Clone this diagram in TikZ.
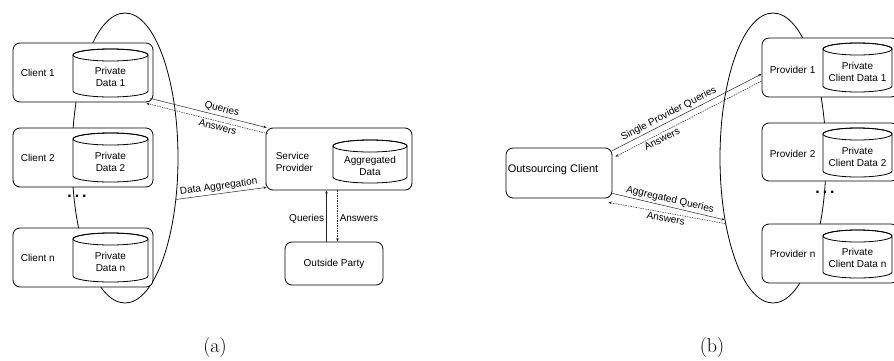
\documentclass[tikz,border=0pt]{standalone}
\usepackage{fontspec}
\usetikzlibrary{shapes.geometric,arrows.meta,calc}
\newfontfamily\diagfont{Liberation Sans}

% database drum: name, centre x, centre y, width, height, text
\newcommand\drum[6]{%
  \path[drumline] ({#2-#4/2},{#3-#5/2+6}) -- ({#2-#4/2},{#3+#5/2-6})
    arc[start angle=180, end angle=0, x radius={#4/2}, y radius=6]
    -- ({#2+#4/2},{#3-#5/2+6})
    arc[start angle=0, end angle=-180, x radius={#4/2}, y radius=6] -- cycle;
  \draw[line width=0.8pt] (#2,{#3-#5/2+6}) ellipse[x radius={#4/2}, y radius=6];
  \node[lbl] (#1) at (#2,{#3+4}) {#6};
}

\tikzset{
  ring/.style={draw, ellipse, line width=0.8pt, inner sep=0pt,
    minimum width=106pt, minimum height=290pt},
  party/.style={draw, fill=white, rounded corners=7pt, line width=0.8pt, inner sep=0pt},
  lbl/.style={font=\diagfont\fontsize{10}{12}\selectfont, align=center, inner sep=0pt},
  drumline/.style={draw, fill=white, line width=0.8pt},
  conn/.style={line width=0.5pt, black!85, -{Stealth[length=3.2pt,width=2.6pt]}},
  back/.style={conn, dash pattern=on 1.5pt off 1pt},
  tag/.style={font=\diagfont\fontsize{10}{12}\selectfont, inner sep=2pt, black},
  caption/.style={font=\fontsize{20}{24}\selectfont, inner sep=0pt},
  gap/.style={font=\diagfont\bfseries\fontsize{16}{16}\selectfont, inner sep=0pt}
}

\begin{document}
\begin{tikzpicture}[x=1pt, y=-1pt]
\useasboundingbox (0,0) rectangle (894,360);

% ---------------- (a) clients sharing data with a service provider
\node[ring] (ringA) at (125,158) {};

\node[party, minimum width=140pt, minimum height=59pt] (c1) at (83,72.5) {};
\node[lbl, anchor=west] (c1t) at ($(c1.west)+(8,0)$) {Client 1};
\drum{d1}{110.5}{73}{75}{48}{Private\\Data 1}

\node[party, minimum width=140pt, minimum height=59pt] (c2) at (83,157.5) {};
\node[lbl, anchor=west] (c2t) at ($(c2.west)+(8,0)$) {Client 2};
\drum{d2}{110.5}{157.5}{75}{49}{Private\\Data 2}

\node[gap] (dotsA) at (77,196) {.\kern3pt.\kern3pt.};

\node[party, minimum width=140pt, minimum height=59pt] (cn) at (83,257.5) {};
\node[lbl, anchor=west] (cnt) at ($(cn.west)+(8,0)$) {Client n};
\drum{dn}{110.5}{257.5}{75}{49}{Private\\Data n}

\node[party, minimum width=146pt, minimum height=62pt] (sp) at (339,159) {};
\node[lbl, anchor=west, align=left] (spt) at ($(sp.west)+(10,3)$) {Service\\Provider};
\drum{agg}{370}{161.5}{74}{43}{Aggregated\\Data}

\node[party, minimum width=98pt, minimum height=43pt] (op) at (334,263.5) {};
\node[lbl] (opt) at (op.center) {Outside Party};

\draw[conn] ($(c1.south east)+(-3,-4)$) --
  node[tag, sloped, above, pos=0.6] {Queries} ($(sp.north west)+(1,0)$);
\draw[back] ($(sp.north west)+(2,6)$) --
  node[tag, sloped, below, pos=0.4] {Answers} ($(c1.south east)+(-7,1)$);
\draw[conn] (ringA.-39) --
  node[tag, sloped, above, pos=0.48] {Data Aggregation} ($(sp.south west)+(1,-3)$);

\coordinate (qx) at (326.5,0);
\coordinate (ax) at (337.5,0);
\draw[conn] (op.north -| qx) -- node[tag, left, pos=0.45] {Queries} (sp.south -| qx);
\draw[back] (sp.south -| ax) -- node[tag, right, pos=0.55] {Answers} (op.north -| ax);

\node[caption] (capa) at (215,348) {(a)};

% ---------------- (b) outsourcing client querying several providers
\node[ring] (ringB) at (773,158) {};

\node[party, minimum width=136pt, minimum height=59pt] (p1) at (830,67.5) {};
\node[lbl, anchor=west] (p1t) at ($(p1.west)+(8,2)$) {Provider 1};
\drum{q1}{857.5}{67.5}{69}{49}{Private\\Client Data 1}

\node[party, minimum width=136pt, minimum height=58pt] (p2) at (830,152) {};
\node[lbl, anchor=west] (p2t) at ($(p2.west)+(8,2)$) {Provider 2};
\drum{q2}{857.5}{152.5}{69}{49}{Private\\Client Data 2}

\node[gap] (dotsB) at (825,192) {.\kern3pt.\kern3pt.};

\node[party, minimum width=136pt, minimum height=59pt] (pn) at (830,253.5) {};
\node[lbl, anchor=west] (pnt) at ($(pn.west)+(8,0)$) {Provider n};
\drum{qn}{857.5}{254}{69}{48}{Private\\Client Data n}

\node[party, minimum width=106pt, minimum height=50pt] (oc) at (559,173) {};
\node[lbl, anchor=west, font=\diagfont\fontsize{11}{13}\selectfont] (oct)
  at ($(oc.west)+(2,-3)$) {Outsourcing Client};

\draw[conn] ($(oc.north east)+(0,3)$) --
  node[tag, sloped, above, pos=0.4] {Single Provider Queries} ($(p1.west)+(0,6.5)$);
\draw[back] ($(p1.west)+(0,13.5)$) --
  node[tag, sloped, below, pos=0.7] {Answers} ($(oc.north east)+(3,9)$);
\draw[conn] ($(oc.south east)+(0,-5)$) --
  node[tag, sloped, above, pos=0.5] {Aggregated Queries} (ringB.-128);
\draw[back] (ringB.-126) --
  node[tag, sloped, below, pos=0.5] {Answers} ($(oc.south east)+(-4,4)$);

\node[caption] (capb) at (712,348) {(b)};
\end{tikzpicture}
\end{document}
